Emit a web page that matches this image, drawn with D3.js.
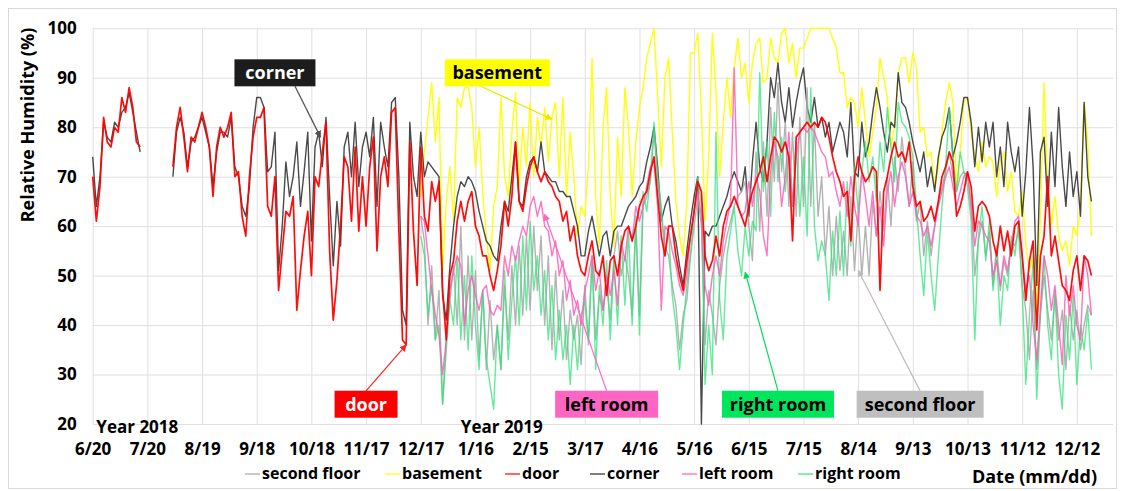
<!DOCTYPE html>
<html>
<head>
<meta charset="utf-8">
<script src="https://cdn.jsdelivr.net/npm/d3@7"></script>
<style>
  html, body { margin: 0; padding: 0; background: #fff; }
  svg { display: block; }
  text { font-family: "Open Sans", Lato, "Liberation Sans", sans-serif; font-weight: 700; }
</style>
</head>
<body>
<svg id="chart" width="1125" height="491"></svg>
<script>
// ---------------- DATA ----------------
const startDoorCorner = "2018-06-20";   // first sample of door / corner
const startOthers = "2018-12-17";       // first sample of the other sensors
const stepDays = 2;                      // one sample every 2 days

const door = [70,61,68,82,77,76,80,79,86,83,88,84,77,76,
  null,null,null,null,null,null,null,null,
  72,80,84,78,71,78,77,80,83,80,76,66,76,80,78,80,83,70,71,62,58,70,78,82,
  82,84,64,62,70,47,55,63,62,66,43,51,58,63,50,70,68,75,81,55,41,49,60,74,72,61,76,59,70,60,72,78,55,70,74,68,83,84,59,37,36,77,59,48,
  76,62,59,69,65,69,47,37,50,53,61,65,61,65,67,60,58,54,54,50,47,51,56,65,60,66,77,65,63,68,72,74,71,69,71,69,68,66,65,61,63,57,60,54,51,
  50,54,57,51,50,54,46,53,54,50,56,59,60,57,60,64,66,67,71,74,66,58,54,60,60,54,50,47,53,58,63,69,67,54,51,53,58,54,60,63,64,66,64,62,60,
  64,67,69,71,74,69,74,78,77,75,77,74,57,78,79,80,81,80,81,80,82,81,78,74,71,69,66,67,57,70,74,71,69,70,72,71,47,67,70,74,77,74,75,
  73,77,68,64,65,61,62,64,61,65,70,72,75,73,62,64,67,71,68,59,64,65,64,62,57,54,60,55,59,54,60,61,54,45,53,57,39,54,58,70,54,58,53,48,47,45,51,54,47,54,53,50];

const corner = [74,64,70,81,78,77,81,80,83,84,87,83,79,75,
  null,null,null,null,null,null,null,null,
  70,79,82,79,72,77,78,80,82,79,76,68,75,79,79,78,82,72,70,64,62,68,80,86,
  86,84,71,72,79,51,60,73,66,70,77,64,71,79,57,76,79,72,82,66,52,65,56,76,79,70,81,68,76,79,74,82,64,81,76,72,85,86,70,43,40,81,70,66,
  79,70,73,72,71,70,46,41,52,60,66,69,68,70,69,67,63,60,57,56,54,53,60,65,63,70,77,65,64,70,73,74,71,77,71,70,69,69,67,67,66,66,63,60,54,
  54,59,62,58,54,58,59,54,59,60,60,62,64,65,66,68,69,73,76,80,72,61,64,66,60,57,52,48,55,61,66,70,20,59,58,60,60,62,64,66,69,71,69,67,72,
  62,73,81,72,69,77,90,86,93,85,81,88,80,85,89,92,84,81,86,80,82,78,81,75,78,81,79,74,85,71,70,81,74,77,83,88,84,79,75,81,80,91,85,
  84,81,77,74,71,75,68,72,67,74,78,80,84,74,77,81,86,86,81,72,80,73,81,76,81,70,76,68,81,75,71,76,62,71,84,72,48,75,78,64,79,68,84,72,64,75,66,71,62,85,70,65];

const basement = [66,75,82,89,77,86,51,65,72,61,86,84,88,88,84,72,80,67,58,51,64,68,86,70,66,79,87,68,80,72,85,70,82,76,84,73,82,85,70,86,66,79,70,58,64,
  62,72,94,66,56,80,88,66,56,78,66,88,80,66,77,84,88,94,97,100,86,72,90,94,79,65,58,54,65,95,95,99,83,61,74,99,87,70,81,90,82,92,98,90,93,
  85,93,97,98,89,90,98,94,93,99,100,93,97,90,96,96,98,100,100,100,100,100,100,98,96,91,91,84,86,85,80,88,81,74,79,84,94,90,86,76,80,91,94,
  94,89,95,92,79,80,74,75,68,72,79,85,89,85,68,75,85,86,79,74,71,77,72,74,73,66,73,75,67,71,63,62,67,56,51,54,43,62,89,68,60,66,58,55,57,52,60,58,64,85,77,58];

const leftRoom = [62,61,54,47,42,38,30,37,47,51,54,52,40,47,50,46,43,47,48,43,42,44,43,54,50,56,53,57,60,58,64,66,62,65,60,59,54,57,50,53,45,49,42,45,40,
  47,50,54,47,51,43,50,46,51,44,57,53,60,57,64,61,64,68,72,73,64,43,60,59,55,52,48,46,50,58,63,67,62,48,44,50,54,50,57,61,65,92,64,62,63,
  69,64,70,67,58,54,71,77,74,64,70,79,64,74,79,80,79,80,79,77,75,74,70,71,67,64,69,62,70,64,60,71,66,60,67,58,64,56,67,71,64,70,73,
  70,64,67,62,61,58,60,56,60,64,67,70,72,68,64,67,70,71,64,56,61,60,58,57,50,53,48,54,51,56,61,62,54,47,50,40,33,43,54,50,43,48,40,32,50,42,48,40,37,54,50,42];

const rightRoom = [58,54,42,48,37,40,24,35,45,40,54,37,50,35,54,40,31,47,33,28,23,40,31,51,33,45,54,40,58,43,61,47,54,42,51,37,48,33,43,33,40,28,40,31,42,
  45,37,54,31,48,40,53,37,53,40,58,44,59,40,62,38,67,63,70,81,70,64,54,59,46,40,31,40,48,54,63,70,64,28,40,30,79,45,37,54,59,64,55,50,60,
  54,61,59,91,67,77,62,83,69,78,67,75,64,77,62,74,58,88,60,53,57,54,45,59,50,63,50,69,56,72,63,71,77,69,74,65,77,71,84,76,69,85,81,
  80,78,74,64,54,46,59,50,43,54,64,72,84,74,67,75,71,68,61,37,58,64,53,61,47,54,40,50,47,58,54,61,47,28,42,53,25,43,54,40,33,47,30,23,42,33,46,28,40,35,43,31];

const secondFloor = [62,57,40,52,37,47,24,37,45,52,40,60,37,54,37,51,33,47,31,45,33,40,31,48,37,52,40,56,42,58,43,60,47,58,40,54,35,51,37,47,33,43,37,42,32,
  48,36,53,37,46,43,48,41,54,59,50,54,50,42,60,42,64,66,69,79,69,62,56,54,48,44,35,42,45,54,60,66,60,36,47,42,36,48,54,58,61,64,66,67,69,
  60,53,75,59,77,62,84,69,89,71,81,64,79,62,82,64,88,64,81,62,70,54,64,50,62,51,59,50,66,51,63,50,60,50,65,58,67,59,70,60,74,67,78,
  71,64,73,61,65,54,61,54,60,65,68,71,75,70,67,70,71,70,64,50,57,61,54,59,48,56,47,53,50,57,56,59,48,43,33,47,31,42,50,43,37,46,37,43,31,44,37,43,35,40,44,42];

const xTickDates = ["2018-06-20","2018-07-20","2018-08-19","2018-09-18","2018-10-18","2018-11-17","2018-12-17",
  "2019-01-16","2019-02-15","2019-03-17","2019-04-16","2019-05-16","2019-06-15","2019-07-15","2019-08-14",
  "2019-09-13","2019-10-13","2019-11-12","2019-12-12"];
const xTickLabels = ["6/20","7/20","8/19","9/18","10/18","11/17","12/17","1/16","2/15","3/17","4/16","5/16",
  "6/15","7/15","8/14","9/13","10/13","11/12","12/12"];
const yTickValues = [20,30,40,50,60,70,80,90,100];

const seriesNames = ["second floor","basement","door","corner","left room","right room"];
const seriesColors = ["#a6a6a6","#ffff00","#ff0000","#2a2a2a","#ff5cb8","#2fe47a"];

// annotations: label box centre (date, value) and arrow tip (date, value)
const annotations = [
  {text:"corner",       box:"2018-09-28", boxV:91.0, from:"2018-10-09", fromV:88.3, tip:"2018-10-23", tipV:78.0, fill:"#1c1c1c", ink:"#ffffff", line:"#505050", w:81},
  {text:"basement",     box:"2019-01-28", boxV:91.0, from:"2019-01-19", fromV:88.3, tip:"2019-02-27", tipV:81.6, fill:"#ffff00", ink:"#000000", line:"#e8e800", w:105},
  {text:"door",         box:"2018-11-17", boxV:24.0, from:"2018-11-17", fromV:26.7, tip:"2018-12-09", tipV:36.0, fill:"#ff0000", ink:"#ffffff", line:"#ff2020", w:63},
  {text:"left room",    box:"2019-03-29", boxV:24.0, from:"2019-03-29", fromV:26.7, tip:"2019-02-23", tipV:62.4, fill:"#ff66c4", ink:"#000000", line:"#ff66c4", w:103},
  {text:"right room",   box:"2019-07-01", boxV:24.0, from:"2019-07-01", fromV:26.7, tip:"2019-06-13", tipV:50.7, fill:"#00e65c", ink:"#000000", line:"#00dd55", w:112},
  {text:"second floor", box:"2019-09-17", boxV:24.0, from:"2019-09-17", fromV:26.7, tip:"2019-08-14", tipV:51.1, fill:"#bfbfbf", ink:"#000000", line:"#bdbdbd", w:127}
];
const yearLabels = [{text:"Year 2018", date:"2018-06-22"}, {text:"Year 2019", date:"2019-01-08"}];

// ---------------- DRAW ----------------
const FONT = '"Open Sans", Lato, sans-serif';
const svg = d3.select("#chart");
const parse = d3.utcParse("%Y-%m-%d");
const DAY = 864e5;
const t0 = parse(startDoorCorner);
const t1 = new Date(+t0 + 560 * DAY);

const x = d3.scaleUtc().domain([t0, t1]).range([92.7, 1113.3]);
const y = d3.scaleLinear().domain([20, 100]).range([424, 28.3]);

// outer border
svg.append("rect").attr("x", 8.5).attr("y", 8.5).attr("width", 1108).attr("height", 480)
  .attr("fill", "none").attr("stroke", "#d9d9d9").attr("stroke-width", 1);

// grid
const tickDates = xTickDates.map(parse);
svg.append("g").attr("transform", `translate(0,${y(20)})`)
  .call(d3.axisBottom(x).tickValues(tickDates).tickSize(-(y(20) - y(100))).tickFormat(""))
  .call(g => g.select(".domain").remove())
  .call(g => g.selectAll("line").attr("stroke", "#e0e0e0"));
svg.append("g").attr("transform", `translate(${x(t0)},0)`)
  .call(d3.axisLeft(y).tickValues(yTickValues).tickSize(-(x(t1) - x(t0))).tickFormat(""))
  .call(g => g.select(".domain").remove())
  .call(g => g.selectAll("line").attr("stroke", "#e0e0e0"));

// axes labels
svg.append("g").attr("transform", `translate(${x(t0)},0)`)
  .call(d3.axisLeft(y).tickValues(yTickValues).tickSize(0).tickPadding(16))
  .call(g => g.select(".domain").remove())
  .call(g => g.selectAll("text").attr("font-size", 17).attr("fill", "#000")
    .style("font-family", FONT).style("font-weight", 700));
svg.append("g").attr("transform", `translate(0,${y(20)})`)
  .call(d3.axisBottom(x).tickValues(tickDates).tickSize(0).tickFormat((d, i) => xTickLabels[i]))
  .call(g => g.select(".domain").remove())
  .call(g => g.selectAll("text").attr("font-size", 17).attr("fill", "#000").attr("y", 31).attr("dy", 0)
    .style("font-family", FONT).style("font-weight", 700));

// clip
svg.append("clipPath").attr("id", "plotclip").append("rect")
  .attr("x", x(t0) - 2).attr("y", y(100) - 1).attr("width", x(t1) - x(t0) + 4).attr("height", y(20) - y(100) + 2);

function toPoints(arr, start) {
  const s = parse(start);
  return arr.map((v, i) => ({t: new Date(+s + i * stepDays * DAY), v}));
}
const seriesData = {
  "second floor": toPoints(secondFloor, startOthers),
  "basement": toPoints(basement, startOthers),
  "door": toPoints(door, startDoorCorner),
  "corner": toPoints(corner, startDoorCorner),
  "left room": toPoints(leftRoom, startOthers),
  "right room": toPoints(rightRoom, startOthers)
};
const line = d3.line().defined(d => d.v !== null).x(d => x(d.t)).y(d => y(d.v));
const drawOrder = ["basement", "corner", "second floor", "right room", "left room", "door"];
const widths = {"second floor":1.4, "basement":1.4, "door":1.7, "corner":1.4, "left room":1.4, "right room":1.4};
const opac = {"second floor":0.85, "basement":0.95, "door":0.95, "corner":0.85, "left room":0.85, "right room":0.75};
const gLines = svg.append("g").attr("clip-path", "url(#plotclip)");
drawOrder.forEach(name => {
  const c = seriesColors[seriesNames.indexOf(name)];
  gLines.append("path").datum(seriesData[name]).attr("d", line)
    .attr("fill", "none").attr("stroke", c).attr("stroke-width", widths[name])
    .attr("stroke-opacity", opac[name]).attr("stroke-linejoin", "round");
});

// axis title
svg.append("text").attr("transform", `translate(34,125) rotate(-90)`)
  .attr("text-anchor", "middle").attr("font-size", 18).text("Relative Humidity (%)");
svg.append("text").attr("x", 1097).attr("y", 483).attr("text-anchor", "end")
  .attr("font-size", 18).text("Date (mm/dd)");

// year labels
yearLabels.forEach(l => {
  svg.append("text").attr("x", x(parse(l.date))).attr("y", 433).attr("font-size", 17).text(l.text);
});

// arrow markers
const defs = svg.append("defs");
annotations.forEach((a, i) => {
  defs.append("marker").attr("id", "arr" + i).attr("viewBox", "0 0 10 10").attr("refX", 9).attr("refY", 5)
    .attr("markerWidth", 7).attr("markerHeight", 7).attr("orient", "auto-start-reverse")
    .attr("markerUnits", "userSpaceOnUse")
    .append("path").attr("d", "M0,0 L10,5 L0,10 z").attr("fill", a.line);
});
annotations.forEach((a, i) => {
  const cx = x(parse(a.box)), cy = y(a.boxV);
  svg.append("line").attr("x1", x(parse(a.from))).attr("y1", y(a.fromV))
    .attr("x2", x(parse(a.tip))).attr("y2", y(a.tipV))
    .attr("stroke", a.line).attr("stroke-width", 1.2).attr("marker-end", `url(#arr${i})`);
  svg.append("rect").attr("x", cx - a.w / 2).attr("y", cy - 13.5).attr("width", a.w).attr("height", 27)
    .attr("fill", a.fill);
  svg.append("text").attr("x", cx).attr("y", cy + 6.5).attr("text-anchor", "middle")
    .attr("font-size", 18).attr("fill", a.ink).text(a.text);
});

// legend
const legendX = [245, 385, 505, 590, 682, 798];
seriesNames.forEach((n, i) => {
  const lx = legendX[i];
  svg.append("line").attr("x1", lx).attr("x2", lx + 15).attr("y1", 474).attr("y2", 474)
    .attr("stroke", seriesColors[i]).attr("stroke-width", 1.5).attr("stroke-opacity", 0.8);
  svg.append("text").attr("x", lx + 17).attr("y", 479).attr("font-size", 16).text(n);
});
</script>
</body>
</html>
